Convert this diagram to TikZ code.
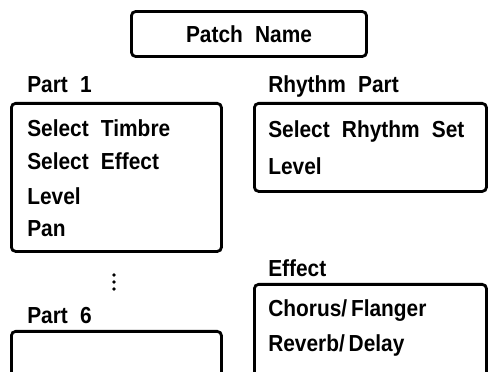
\documentclass[tikz,border=0pt]{standalone}
\usepackage{fontspec}
\setmainfont{Liberation Sans}[WordSpace=2.1, FakeStretch=0.9]
\usetikzlibrary{positioning}
\tikzset{
    panel/.style={draw, line width=2pt, rounded corners=3pt, anchor=north west, inner sep=0pt},
    item/.style={anchor=base west, inner sep=0pt},
}

\begin{document}
\begin{tikzpicture}[x=0.025cm, y=-0.025cm, font=\fontsize{16.5}{19}\selectfont\bfseries]
    % Frame of the page, cut at the lower edge
    \useasboundingbox (0,0) rectangle (488,372);
    \clip (0,0) rectangle (488,372);
    
    % Patch name (top)
    \node[draw, line width=2pt, rounded corners=3pt, minimum width=5.875cm, minimum height=1.125cm] (patchname) at (249,34) {Patch Name};
    
    % Part 1 (upper left)
    \node[item] (part1label) at (27,93) {Part 1};
    \node[panel, minimum width=5.25cm, minimum height=3.7cm] (part1) at (10,102) {};
    \node[item] (timbre) at (27,137) {Select Timbre};
    \node[item] (effectsel) at (27,170) {Select Effect};
    \node[item] (level1) at (27,205) {Level};
    \node[item] (pan1) at (27,237) {Pan};
    
    % Parts 2 to 5 left out
    \foreach \dy in {275,282,289}
        \fill (114,\dy) circle (0.045cm);
    
    % Part 6 (lower left)
    \node[item] (part6label) at (27,324) {Part 6};
    \node[panel, minimum width=5.25cm, minimum height=3cm] (part6) at (10,330) {};
    
    % Rhythm part (upper right)
    \node[item] (rhythmlabel) at (268,93) {Rhythm Part};
    \node[panel, minimum width=5.8cm, minimum height=2.2cm] (rhythm) at (253,102) {};
    \node[item] (rhythmset) at (268,138) {Select Rhythm Set};
    \node[item] (levelr) at (268,175) {Level};
    
    % Effect (lower right)
    \node[item] (effectlabel) at (268,277) {Effect};
    \node[panel, minimum width=5.8cm, minimum height=3cm] (effect) at (253,283) {};
    \node[item] (chorus) at (268,317) {Chorus/\,Flanger};
    \node[item] (reverb) at (268,352) {Reverb/\,Delay};
\end{tikzpicture}
\end{document}
